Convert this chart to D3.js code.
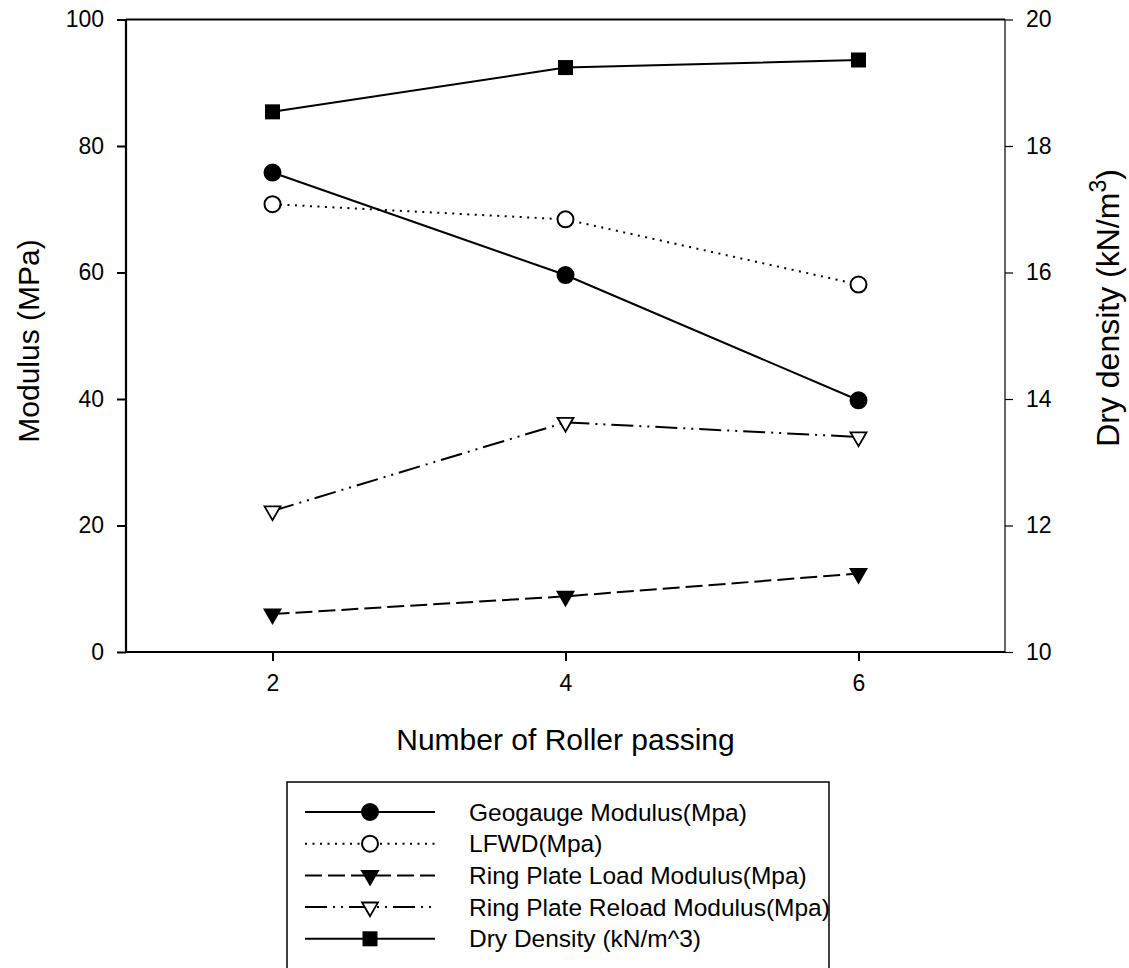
<!DOCTYPE html>
<html>
<head>
<meta charset="utf-8">
<script src="https://cdn.jsdelivr.net/npm/d3@7"></script>
<style>
  body { margin: 0; background: #fff; }
  text { font-family: 'Liberation Sans', Arial, sans-serif; fill: #000; }
</style>
</head>
<body>
<div id="chart"></div>
<script>

// data
var passes = [2, 4, 6];
var xTicks = [2, 4, 6];
var leftTicks = [0, 20, 40, 60, 80, 100];
var rightTicks = [10, 12, 14, 16, 18, 20];

var geogauge = [75.8, 59.6, 39.8];
var lfwd = [70.8, 68.4, 58.1];
var plateLoad = [6.0, 8.8, 12.4];
var plateReload = [22.3, 36.3, 34.0];
var dryDensity = [18.54, 19.24, 19.36];

var seriesNames = ['Geogauge Modulus(Mpa)', 'LFWD(Mpa)', 'Ring Plate Load Modulus(Mpa)',
                   'Ring Plate Reload Modulus(Mpa)', 'Dry Density (kN/m^3)'];

var W = 1129, H = 968;
var pLeft = 126, pRight = 1005, pTop = 19.5, pBottom = 652;

var svg = d3.select('#chart').append('svg')
            .attr('width', W)
            .attr('height', H);

var x = d3.scaleLinear().domain([1, 7]).range([pLeft, pRight]);
var yL = d3.scaleLinear().domain([0, 100]).range([pBottom, pTop]);
var yR = d3.scaleLinear().domain([10, 20]).range([pBottom, pTop]);

// style of each series: line dash, marker, fill, axis
var styles = [
  { values: geogauge,    dash: null,           sym: 'circle', fill: '#000', scale: yL },
  { values: lfwd,        dash: '2,5.5',        sym: 'circle', fill: '#fff', scale: yL },
  { values: plateLoad,   dash: '17,6',         sym: 'tri',    fill: '#000', scale: yL },
  { values: plateReload, dash: '22,6,2,6,2,6', sym: 'tri',    fill: '#fff', scale: yL },
  { values: dryDensity,  dash: null,           sym: 'square', fill: '#000', scale: yR }
];

function drawMarker(g, sym, fill, cx, cy) {
  if (sym == 'circle') {
    g.append('circle')
      .attr('cx', cx).attr('cy', cy).attr('r', 8)
      .attr('fill', fill).attr('stroke', '#000').attr('stroke-width', 2);
  } else if (sym == 'square') {
    g.append('rect')
      .attr('x', cx - 7.5).attr('y', cy - 7.5)
      .attr('width', 15).attr('height', 15)
      .attr('fill', fill);
  } else {
    g.append('path')
      .attr('d', d3.symbol().type(d3.symbolTriangle).size(110)())
      .attr('transform', 'translate(' + cx + ',' + cy + ') rotate(180)')
      .attr('fill', fill).attr('stroke', '#000').attr('stroke-width', 1.8);
  }
}

// axes
var fmt = d3.format('d');
var xAxis = d3.axisBottom(x).tickValues(xTicks).tickFormat(fmt).tickSize(9).tickPadding(14);
var leftAxis = d3.axisLeft(yL).tickValues(leftTicks).tickFormat(fmt).tickSize(9).tickPadding(13);
var rightAxis = d3.axisRight(yR).tickValues(rightTicks).tickFormat(fmt).tickSize(8).tickPadding(13);

var gx = svg.append('g').attr('transform', 'translate(0,' + pBottom + ')').call(xAxis);
var gl = svg.append('g').attr('transform', 'translate(' + pLeft + ',0)').call(leftAxis);
var gr = svg.append('g').attr('transform', 'translate(' + pRight + ',0)').call(rightAxis);

[gx, gl, gr].forEach(function(g) {
  g.select('.domain').remove();
  g.selectAll('text').style('font-size', '23px').attr('fill', '#000')
    .style('font-family', "'Liberation Sans', Arial, sans-serif");
});
gx.selectAll('line').attr('stroke-width', 2);
gl.selectAll('line').attr('stroke-width', 2);
gr.selectAll('line').attr('stroke-width', 1.2);

// frame
svg.append('line').attr('x1', pLeft).attr('x2', pRight).attr('y1', pTop).attr('y2', pTop)
   .attr('stroke', '#000').attr('stroke-width', 2);
svg.append('line').attr('x1', pLeft).attr('x2', pRight).attr('y1', pBottom).attr('y2', pBottom)
   .attr('stroke', '#000').attr('stroke-width', 2.2);
svg.append('line').attr('x1', pLeft).attr('x2', pLeft).attr('y1', pTop).attr('y2', pBottom)
   .attr('stroke', '#000').attr('stroke-width', 2.2);
svg.append('line').attr('x1', pRight).attr('x2', pRight).attr('y1', pTop).attr('y2', pBottom)
   .attr('stroke', '#000').attr('stroke-width', 1.2);

// series
var plot = svg.append('g');
styles.forEach(function(s) {
  var pts = passes.map(function(p, i) { return [x(p), s.scale(s.values[i])]; });
  plot.append('path')
      .attr('d', d3.line()(pts))
      .attr('fill', 'none')
      .attr('stroke', '#000')
      .attr('stroke-width', 2)
      .attr('stroke-dasharray', s.dash);
  pts.forEach(function(p) { drawMarker(plot, s.sym, s.fill, p[0], p[1]); });
});

// axis titles
svg.append('text')
   .attr('x', (pLeft + pRight) / 2).attr('y', 750)
   .attr('text-anchor', 'middle')
   .style('font-size', '30px')
   .text('Number of Roller passing');

svg.append('text')
   .attr('transform', 'translate(39,341) rotate(-90)')
   .attr('text-anchor', 'middle')
   .style('font-size', '30px')
   .text('Modulus (MPa)');

var rt = svg.append('text')
   .attr('transform', 'translate(1119,308) rotate(-90)')
   .attr('text-anchor', 'middle')
   .style('font-size', '32px');
rt.append('tspan').text('Dry density (kN/m');
rt.append('tspan').attr('dy', -13).style('font-size', '23px').text('3');
rt.append('tspan').attr('dy', 13).text(')');

// legend
var lg = svg.append('g');
lg.append('rect')
  .attr('x', 287).attr('y', 782)
  .attr('width', 542).attr('height', 230)
  .attr('fill', 'none').attr('stroke', '#000').attr('stroke-width', 1.5);

styles.forEach(function(s, i) {
  var cy = 812 + i * 31.7;
  lg.append('line')
    .attr('x1', 305).attr('x2', 435).attr('y1', cy).attr('y2', cy)
    .attr('stroke', '#000').attr('stroke-width', 2)
    .attr('stroke-dasharray', s.dash);
  drawMarker(lg, s.sym, s.fill, 370, cy);
  lg.append('text')
    .attr('x', 469).attr('y', cy)
    .attr('dy', '0.35em')
    .style('font-size', '24.5px')
    .text(seriesNames[i]);
});

</script>
</body>
</html>
